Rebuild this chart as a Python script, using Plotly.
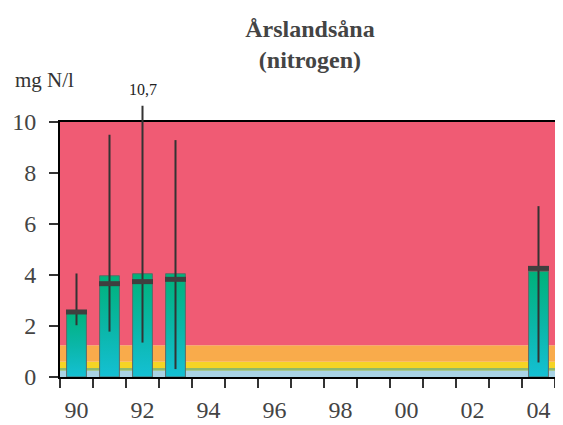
import plotly.graph_objects as go

# ---- data ----
years = [1990, 1991, 1992, 1993, 2004]
means = [2.60, 3.97, 4.05, 4.05, 4.15]
medians = [2.55, 3.66, 3.74, 3.83, 4.26]
mins = [2.03, 1.78, 1.35, 0.31, 0.57]
maxs = [4.06, 9.50, 10.7, 9.29, 6.70]

band_limits = [0, 0.25, 0.35, 0.6, 1.25, 10]
band_colors = ["#A9D3E5", "#8DB86C", "#F5D424", "#F9AB4B", "#F05B74"]

tick_years = [1990, 1992, 1994, 1996, 1998, 2000, 2002, 2004]
tick_labels = ["90", "92", "94", "96", "98", "00", "02", "04"]
slot_edges = [y - 0.5 for y in range(1990, 2006)]
y_ticks = [0, 2, 4, 6, 8, 10]
y_max = 10

title_text = "<b>Årslandsåna<br>(nitrogen)</b>"
unit_text = "mg N/l"
bar_half = 0.3
FONT = "Times New Roman"

fig = go.Figure()

# background classification bands
for lo, hi, col in zip(band_limits[:-1], band_limits[1:], band_colors):
    fig.add_shape(type="rect", xref="paper", yref="y", x0=0, x1=1, y0=lo, y1=hi,
                  fillcolor=col, line_width=0, layer="below")

# bars with vertical gradient
for x, m in zip(years, means):
    fig.add_trace(go.Scatter(
        x=[x - bar_half, x + bar_half, x + bar_half, x - bar_half, x - bar_half],
        y=[0, 0, m, m, 0],
        mode="lines", fill="toself",
        line=dict(color="#5E6B66", width=1),
        fillgradient=dict(type="vertical",
                          colorscale=[[0, "#14C0D4"], [0.5, "#0AB6A6"], [1, "#00B27A"]]),
        showlegend=False, hoverinfo="skip"))

# min-max whiskers (part inside the frame) and medians
fig.add_trace(go.Scatter(
    x=years, y=medians, mode="markers",
    marker=dict(symbol="line-ew", size=15, line=dict(color="#3F3F3F", width=5)),
    error_y=dict(type="data", symmetric=False,
                 array=[min(mx, y_max) - md for mx, md in zip(maxs, medians)],
                 arrayminus=[md - mn for md, mn in zip(medians, mins)],
                 color="#333333", thickness=2, width=0),
    cliponaxis=False, showlegend=False))

# whisker parts that exceed the axis range, plus value label
for x, mx in zip(years, maxs):
    if mx > y_max:
        fig.add_annotation(x=x, y=y_max, xref="x", yref="y", axref="x", ayref="y",
                           ax=x, ay=mx, text="", showarrow=True, arrowhead=0,
                           arrowwidth=2, arrowcolor="#333333", standoff=0, startstandoff=0)
        fig.add_annotation(x=x, y=mx / y_max, xref="x", yref="paper",
                           text=f"{mx:.1f}".replace(".", ","), showarrow=False,
                           yanchor="bottom", yshift=4,
                           font=dict(family=FONT, size=16, color="#222"))

fig.add_annotation(xref="paper", yref="paper", x=-0.095, y=1.11, xanchor="left", yanchor="bottom",
                   text=unit_text, showarrow=False, font=dict(family=FONT, size=21, color="#333"))

# page body has an 8px margin: figure is 555x417 so it ends at the window edge
fig.update_layout(
    width=555, height=417,
    margin=dict(l=52, r=8, t=114, b=48, autoexpand=False),
    paper_bgcolor="white", plot_bgcolor="white",
    title=dict(text=title_text, x=0.505, xref="paper", xanchor="center", y=0.93, yanchor="top",
               font=dict(family=FONT, size=24, color="#444")),
    font=dict(family=FONT, size=24, color="#444"),
)
fig.update_xaxes(range=[1989.5, 2004.5], tickvals=tick_years, ticktext=tick_labels,
                 ticks="", showgrid=False, zeroline=False, automargin=False,
                 tickfont=dict(family=FONT, size=24, color="#444"),
                 showline=True, linecolor="black", linewidth=2, mirror=True,
                 minor=dict(tickvals=slot_edges, ticks="outside", ticklen=9,
                            tickcolor="#333", tickwidth=2, showgrid=False),
                 ticklabelstandoff=10)
fig.update_yaxes(range=[0, y_max], tickvals=y_ticks, ticks="outside", ticklen=9,
                 tickfont=dict(family=FONT, size=24, color="#444"),
                 tickcolor="#333", tickwidth=2, showgrid=False, zeroline=False, automargin=False,
                 showline=True, linecolor="black", linewidth=2, mirror=True,
                 ticklabelstandoff=8)

fig.write_html("out.html")
